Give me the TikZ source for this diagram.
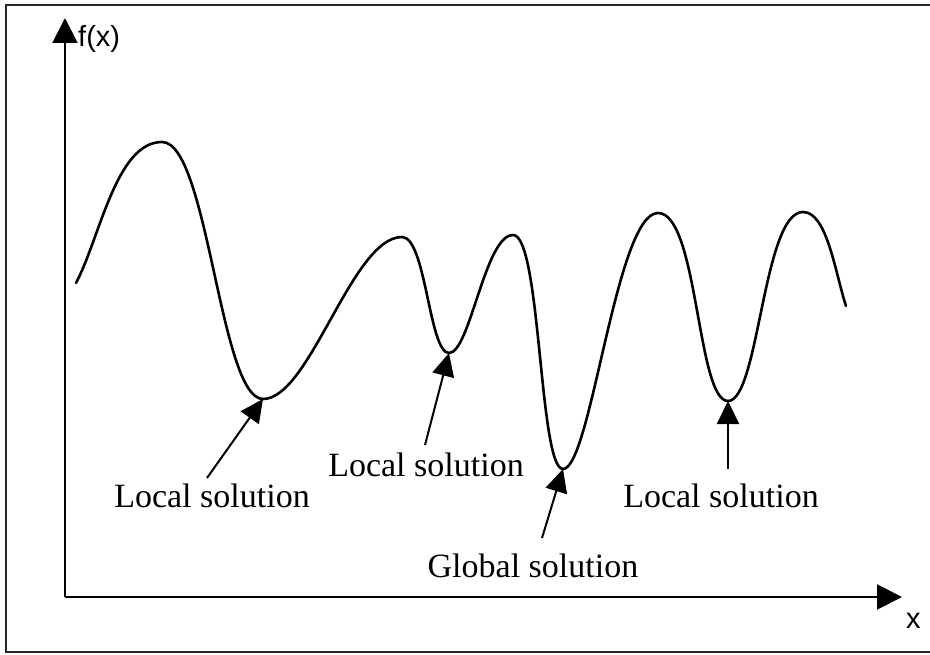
\documentclass[tikz,border=0pt]{standalone}
\usepackage{fontspec}
\setmainfont{Liberation Serif}
\newfontfamily\axisfont{Liberation Sans}
\usetikzlibrary{arrows.meta}
\begin{document}
\begin{tikzpicture}[x=1pt,y=-1pt,
  frameline/.style={line width=2pt,black!85},
  axisline/.style={line width=2pt,-{Triangle[length=25pt,width=25pt]}},
  curveline/.style={line width=2.6pt,line join=round,line cap=round},
  pointer/.style={line width=2pt,-{Triangle[length=23pt,width=22pt]}},
  solutionlabel/.style={font=\fontsize{34}{40}\selectfont,anchor=base,inner sep=0pt},
  axislabel/.style={font=\axisfont\fontsize{29}{34}\selectfont,anchor=base west,inner sep=0pt}]
\useasboundingbox (0,0) rectangle (930,655);
\fill[white] (0,0) rectangle (930,655);
\clip (0,0) rectangle (930,655);

% outer frame (its right side lies beyond the page)
\draw[frameline] (6,5) rectangle (940,652);

% axes
\coordinate (O) at (65,597);
\coordinate (ytip) at (65,18);
\coordinate (xtip) at (902,597);
\draw[axisline] (O) -- (ytip);
\draw[axisline] (O) -- (xtip);
\node[axislabel] (fx) at (78,47) {f(x)};
\node[axislabel] (xl) at (906,628) {x};

% extrema of the function
\coordinate (s)  at (76,283);
\coordinate (p1) at (162,142);
\coordinate (m1) at (263,399);
\coordinate (p2) at (402,237);
\coordinate (m2) at (449,353);
\coordinate (p3) at (513,235);
\coordinate (m3) at (563,469);
\coordinate (p4) at (658,213);
\coordinate (m4) at (728,401);
\coordinate (p5) at (803,212);
\coordinate (e)  at (846,306);

% the function f(x)
\draw[curveline] (s)
  .. controls (100,238) and (116,142) .. (p1)
  .. controls (208,142) and (220,399) .. (m1)
  .. controls (310,399) and (352,237) .. (p2)
  .. controls (426,237) and (429,353) .. (m2)
  .. controls (470,353) and (485,235) .. (p3)
  .. controls (541,235) and (539,469) .. (m3)
  .. controls (591,469) and (616,213) .. (p4)
  .. controls (698,213) and (697,401) .. (m4)
  .. controls (759,401) and (763,212) .. (p5)
  .. controls (827,212) and (835,272) .. (e);

% labels and pointers
\node[solutionlabel] (l1) at (212,507) {Local solution};
\node[solutionlabel] (l2) at (426,476) {Local solution};
\node[solutionlabel] (g)  at (533,577) {Global solution};
\node[solutionlabel] (l3) at (721,507) {Local solution};

\coordinate (t1) at (207,478);
\coordinate (t2) at (425,445);
\coordinate (t3) at (542,538);
\coordinate (t4) at (728,469);
\draw[pointer] (t1) -- (m1);
\draw[pointer] (t2) -- (m2);
\draw[pointer] (t3) -- (m3);
\draw[pointer] (t4) -- (m4);
\end{tikzpicture}
\end{document}
